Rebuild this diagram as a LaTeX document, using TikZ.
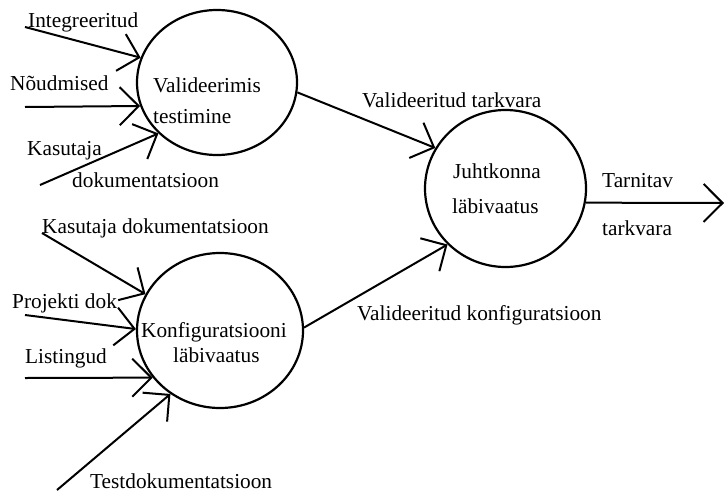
\documentclass[tikz,border=0pt]{standalone}
\usepackage{fontspec}
\setmainfont{Liberation Serif}
\usetikzlibrary{shapes.geometric,arrows.meta}
\begin{document}
\begin{tikzpicture}[x=1pt,y=-1pt,
  process/.style={draw,ellipse,line width=2.2pt,inner sep=0pt},
  lbl/.style={anchor=base west,inner sep=0pt,font=\fontsize{21.3}{24}\selectfont},
  flow/.style={line width=2pt,-{Straight Barb[length=19pt,width=38pt,line width=2pt]}}]
\fill[white] (0,0) rectangle (725,493);
\useasboundingbox (0,0) rectangle (725,493);

% processes
\node[process,minimum width=160pt,minimum height=145pt] (V) at (217,82.5) {};
\node[process,minimum width=166pt,minimum height=155pt] (K) at (220,330.5) {};
\node[process,minimum width=161pt,minimum height=157pt] (J) at (505.5,188.5) {};

% texts inside the processes
\node[lbl] (V1) at (153,92) {Valideerimis};
\node[lbl] (V2) at (153,123) {testimine};
\node[lbl] (K1) at (141,337) {Konfiguratsiooni};
\node[lbl] (K2) at (173,362) {läbivaatus};
\node[lbl] (J1) at (453,178) {Juhtkonna};
\node[lbl] (J2) at (452,213) {läbivaatus};

% flow labels
\node[lbl] (tI) at (28,27) {Integreeritud};
\node[lbl] (tN) at (10,90) {Nõudmised};
\node[lbl] (tK1) at (27,155) {Kasutaja};
\node[lbl] (tK2) at (72,187) {dokumentatsioon};
\node[lbl] (tKD) at (42,233) {Kasutaja dokumentatsioon};
\node[lbl] (tP) at (12,308) {Projekti dok};
\node[lbl] (tL) at (25,363) {Listingud};
\node[lbl] (tT) at (90,488) {Testdokumentatsioon};
\node[lbl] (tVT) at (362,107) {Valideeritud tarkvara};
\node[lbl] (tVK) at (357,320) {Valideeritud konfiguratsioon};
\node[lbl] (tT1) at (602,187) {Tarnitav};
\node[lbl] (tT2) at (602,235) {tarkvara};

% free ends of the flows
\coordinate (inI) at (25,27);
\coordinate (inN) at (25,107);
\coordinate (inK) at (40,185);
\coordinate (inKD) at (42,233);
\coordinate (inP) at (25,315);
\coordinate (inL) at (25,378);
\coordinate (inT) at (57,490);
\coordinate (out) at (724,203);

% flows
\draw[flow] (inI) -- (V.162.8);
\draw[flow] (inN) -- (V.197.2);
\draw[flow] (inK) -- (V.221.9);
\draw[flow] (inKD) -- (K.154.1);
\draw[flow] (inP) -- (K.179.7);
\draw[flow] (inL) -- (K.215.3);
\draw[flow] (inT) -- (K.232.2);
\draw[flow] (V.-7.5) -- (J.150.8);
\draw[flow] (K.2.4) -- (J.224.5);
\draw[flow] (J.-10.2) -- (out);
\end{tikzpicture}
\end{document}
